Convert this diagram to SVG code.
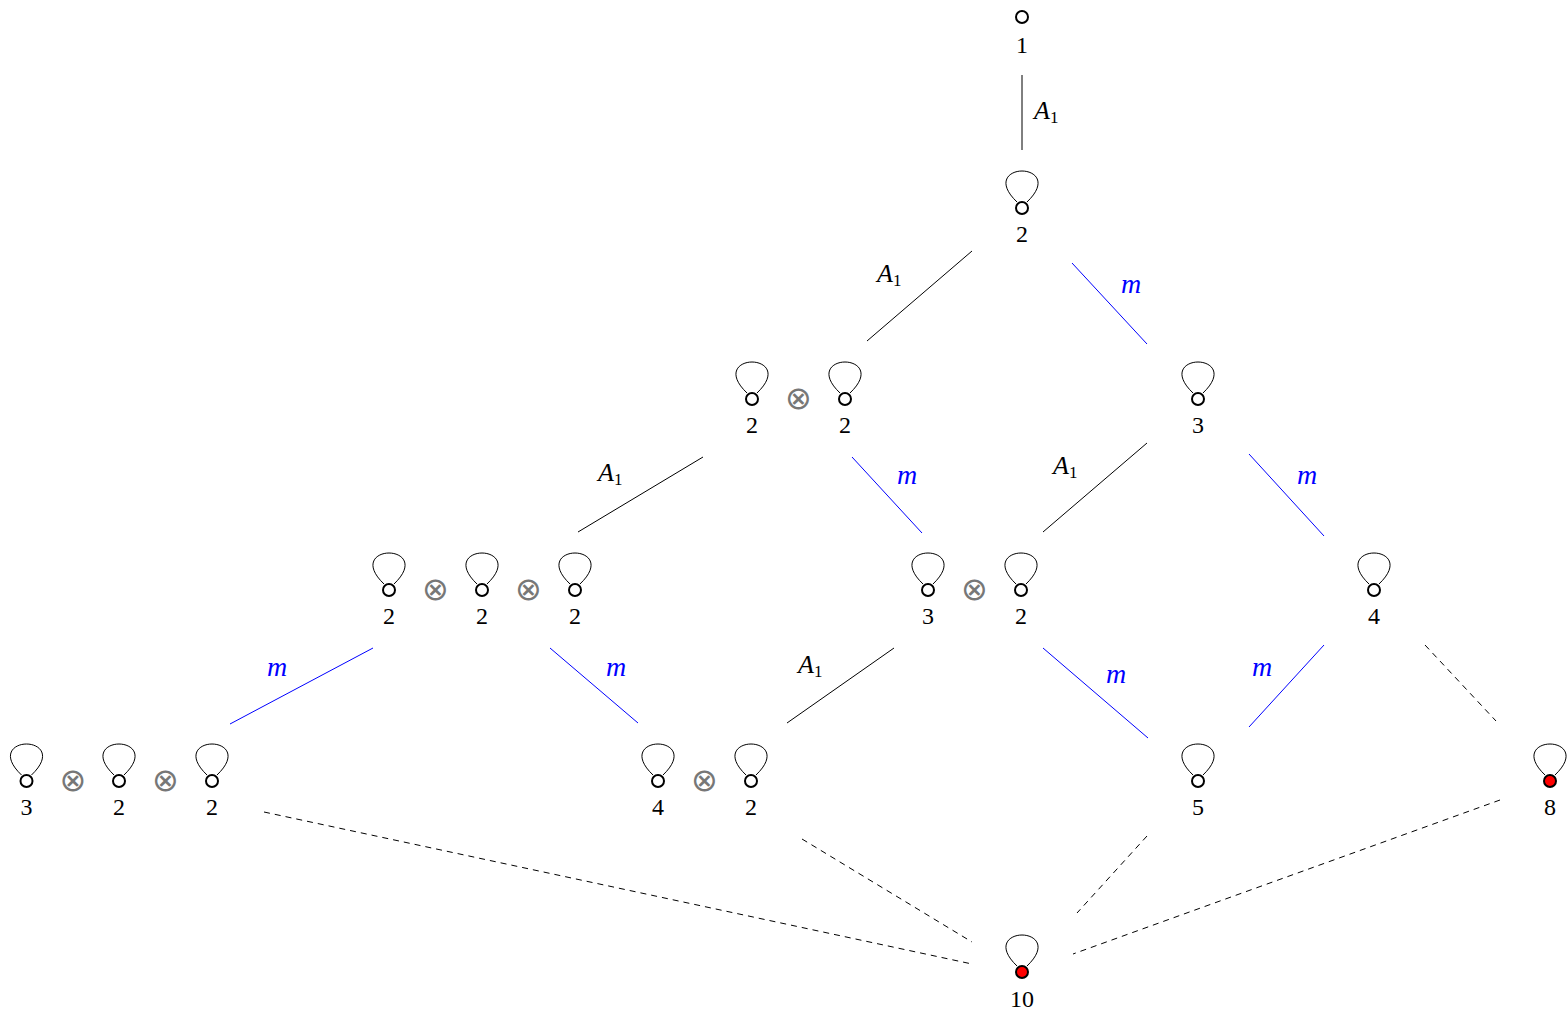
<svg xmlns="http://www.w3.org/2000/svg" xmlns:xlink="http://www.w3.org/1999/xlink" width="1568" height="1016" viewBox="0 0 1568 1016">
<style>
.v{fill:#fff;stroke:#000;stroke-width:2}
.r{fill:#f00;stroke:#000;stroke-width:2}
.lp{fill:none;stroke:#000;stroke-width:1}
.t{font-family:'Liberation Serif','DejaVu Serif',serif;font-size:24px;text-anchor:middle;fill:#000}
.ot{font-family:'DejaVu Sans',sans-serif;font-size:32px;text-anchor:middle;fill:#777}
.el{font-family:'Liberation Serif','DejaVu Serif',serif;font-size:26px;font-style:italic;fill:#000}
.em{font-family:'Liberation Serif','DejaVu Serif',serif;font-size:28px;font-style:italic;fill:#00f}
.sub{font-size:17px;font-style:normal}
.k{stroke:#000;stroke-width:1;fill:none}
.bl{stroke:#00f;stroke-width:1;fill:none}
.d{stroke:#000;stroke-width:1;fill:none;stroke-dasharray:6 5}
</style>
<defs>
<path id="loop" class="lp" d="M -5,-6 C -26,-26 -13,-37 0,-37 C 13,-37 26,-26 5,-6"/>
</defs>
<g id="connectors">
<line class="k" x1="1022" y1="75" x2="1022" y2="150"/>
<text class="el" x="1034" y="119">A<tspan class="sub" dy="4">1</tspan></text>
<line class="k" x1="972" y1="251" x2="867" y2="341"/>
<text class="el" x="877" y="282">A<tspan class="sub" dy="4">1</tspan></text>
<line class="bl" x1="1072" y1="263" x2="1147" y2="344"/>
<text class="em" x="1121" y="293">m</text>
<line class="k" x1="703" y1="457" x2="578" y2="532"/>
<text class="el" x="598" y="481">A<tspan class="sub" dy="4">1</tspan></text>
<line class="bl" x1="852" y1="457" x2="922" y2="533"/>
<text class="em" x="897" y="484">m</text>
<line class="k" x1="1147" y1="443" x2="1043" y2="532"/>
<text class="el" x="1053" y="474">A<tspan class="sub" dy="4">1</tspan></text>
<line class="bl" x1="1249" y1="454" x2="1324" y2="536"/>
<text class="em" x="1297" y="484">m</text>
<line class="bl" x1="373" y1="648" x2="230" y2="724"/>
<text class="em" x="267" y="676">m</text>
<line class="bl" x1="550" y1="648" x2="638" y2="723"/>
<text class="em" x="606" y="676">m</text>
<line class="k" x1="894" y1="648" x2="787" y2="723"/>
<text class="el" x="798" y="673">A<tspan class="sub" dy="4">1</tspan></text>
<line class="bl" x1="1043" y1="648" x2="1148" y2="738"/>
<text class="em" x="1106" y="683">m</text>
<line class="bl" x1="1324" y1="645" x2="1249" y2="727"/>
<text class="em" x="1252" y="676">m</text>
<line class="d" x1="1425" y1="645" x2="1496" y2="721"/>
<line class="d" x1="264" y1="812" x2="972" y2="964"/>
<line class="d" x1="802" y1="839" x2="972" y2="942"/>
<line class="d" x1="1147" y1="836" x2="1077" y2="913"/>
<line class="d" x1="1500" y1="800" x2="1073" y2="954"/>
</g>
<g id="n1">
<circle class="v" cx="1022" cy="17" r="6"/>
<text class="t" x="1022" y="53">1</text>
</g>
<g id="n2">
<use xlink:href="#loop" x="1022" y="208"/>
<circle class="v" cx="1022" cy="208" r="6"/>
<text class="t" x="1022" y="242">2</text>
</g>
<g id="n2x2">
<use xlink:href="#loop" x="752" y="399"/>
<circle class="v" cx="752" cy="399" r="6"/>
<text class="t" x="752" y="433">2</text>
<text class="ot" x="798.5" y="409">⊗</text>
<use xlink:href="#loop" x="845" y="399"/>
<circle class="v" cx="845" cy="399" r="6"/>
<text class="t" x="845" y="433">2</text>
</g>
<g id="n3">
<use xlink:href="#loop" x="1198" y="399"/>
<circle class="v" cx="1198" cy="399" r="6"/>
<text class="t" x="1198" y="433">3</text>
</g>
<g id="n2x2x2">
<use xlink:href="#loop" x="389" y="590"/>
<circle class="v" cx="389" cy="590" r="6"/>
<text class="t" x="389" y="624">2</text>
<text class="ot" x="435.5" y="600">⊗</text>
<use xlink:href="#loop" x="482" y="590"/>
<circle class="v" cx="482" cy="590" r="6"/>
<text class="t" x="482" y="624">2</text>
<text class="ot" x="528.5" y="600">⊗</text>
<use xlink:href="#loop" x="575" y="590"/>
<circle class="v" cx="575" cy="590" r="6"/>
<text class="t" x="575" y="624">2</text>
</g>
<g id="n3x2">
<use xlink:href="#loop" x="928" y="590"/>
<circle class="v" cx="928" cy="590" r="6"/>
<text class="t" x="928" y="624">3</text>
<text class="ot" x="974.5" y="600">⊗</text>
<use xlink:href="#loop" x="1021" y="590"/>
<circle class="v" cx="1021" cy="590" r="6"/>
<text class="t" x="1021" y="624">2</text>
</g>
<g id="n4">
<use xlink:href="#loop" x="1374" y="590"/>
<circle class="v" cx="1374" cy="590" r="6"/>
<text class="t" x="1374" y="624">4</text>
</g>
<g id="n3x2x2">
<use xlink:href="#loop" x="26.5" y="781"/>
<circle class="v" cx="26.5" cy="781" r="6"/>
<text class="t" x="26.5" y="815">3</text>
<text class="ot" x="73" y="791">⊗</text>
<use xlink:href="#loop" x="119" y="781"/>
<circle class="v" cx="119" cy="781" r="6"/>
<text class="t" x="119" y="815">2</text>
<text class="ot" x="165.5" y="791">⊗</text>
<use xlink:href="#loop" x="212" y="781"/>
<circle class="v" cx="212" cy="781" r="6"/>
<text class="t" x="212" y="815">2</text>
</g>
<g id="n4x2">
<use xlink:href="#loop" x="658" y="781"/>
<circle class="v" cx="658" cy="781" r="6"/>
<text class="t" x="658" y="815">4</text>
<text class="ot" x="704.5" y="791">⊗</text>
<use xlink:href="#loop" x="751" y="781"/>
<circle class="v" cx="751" cy="781" r="6"/>
<text class="t" x="751" y="815">2</text>
</g>
<g id="n5">
<use xlink:href="#loop" x="1198" y="781"/>
<circle class="v" cx="1198" cy="781" r="6"/>
<text class="t" x="1198" y="815">5</text>
</g>
<g id="n8">
<use xlink:href="#loop" x="1550" y="781"/>
<circle class="r" cx="1550" cy="781" r="6"/>
<text class="t" x="1550" y="815">8</text>
</g>
<g id="n10">
<use xlink:href="#loop" x="1022" y="972"/>
<circle class="r" cx="1022" cy="972" r="6"/>
<text class="t" x="1022" y="1007">10</text>
</g>
</svg>
